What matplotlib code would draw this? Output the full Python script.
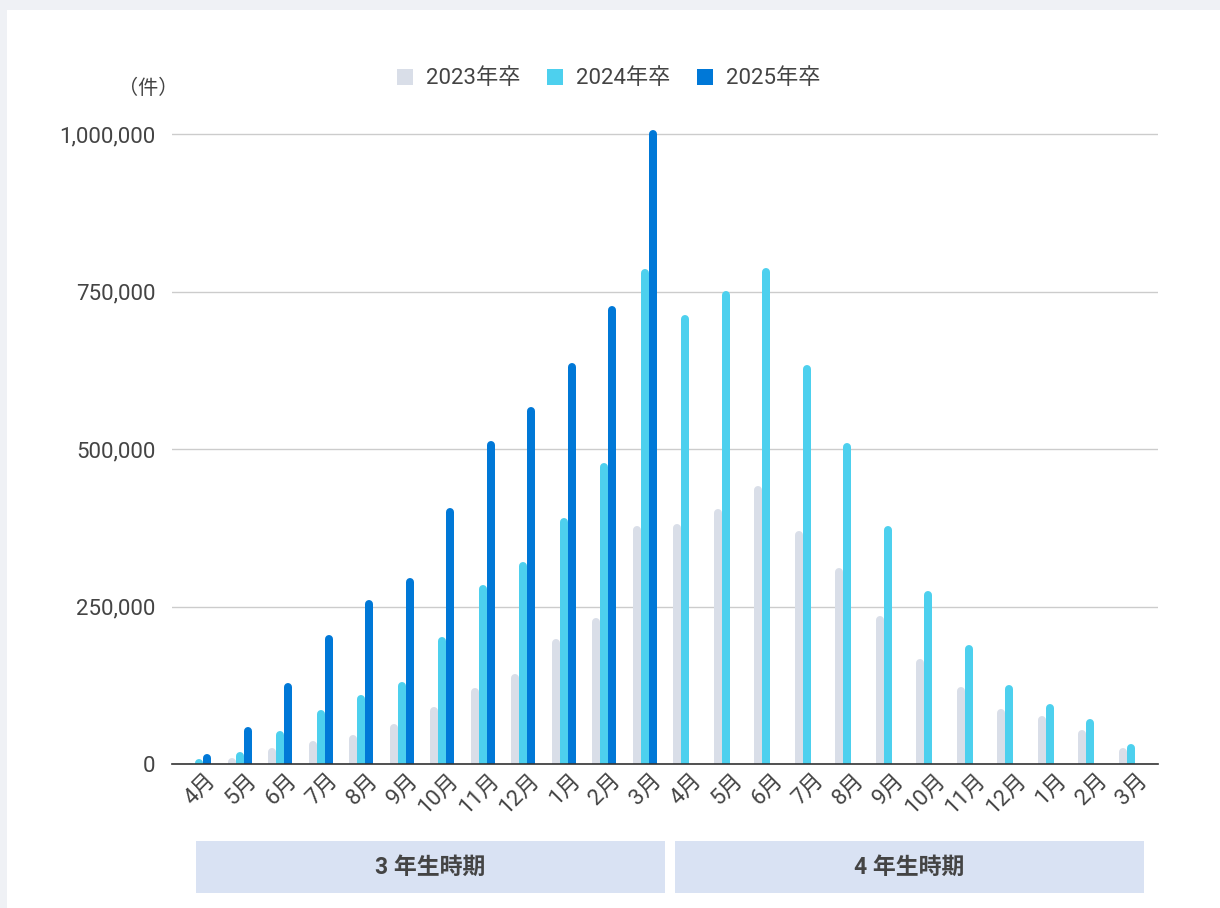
import numpy as np
import matplotlib
matplotlib.use("Agg")
import matplotlib.pyplot as plt
from matplotlib.patches import Patch, Rectangle
from matplotlib.transforms import ScaledTranslation, blended_transform_factory

plt.rcParams['font.family'] = ['Roboto', 'Noto Sans CJK JP', 'DejaVu Sans']

# monthly counts (件), April of 3rd year through March of 4th year
months = ['4月', '5月', '6月', '7月', '8月', '9月', '10月', '11月', '12月', '1月', '2月', '3月',
          '4月', '5月', '6月', '7月', '8月', '9月', '10月', '11月', '12月', '1月', '2月', '3月']
grad_2023 = [2000, 10000, 26000, 37000, 46000, 64000, 91000, 121000, 143000, 199000, 232000, 377000,
             381000, 404000, 442000, 370000, 311000, 235000, 167000, 122000, 87000, 76000, 54000, 25000]
grad_2024 = [7500, 18600, 53000, 85000, 110000, 130000, 202000, 284000, 321000, 390000, 477000, 785000,
             713000, 751000, 787000, 633000, 510000, 377000, 275000, 189000, 126000, 95000, 72000, 31000]
grad_2025 = [16500, 59000, 128000, 205000, 261000, 295000, 407000, 512000, 566000, 636000, 727000, 1006000]
series = [('2023年卒', grad_2023, '#d9dee8'),
          ('2024年卒', grad_2024, '#4dd0ee'),
          ('2025年卒', grad_2025, '#0078d7')]
periods = ['3 年生時期', '4 年生時期']

W, H = 1220, 908
fig = plt.figure(figsize=(W / 100, H / 100), dpi=100)
fig.patch.set_facecolor('#eff1f5')
fig.patches.append(Rectangle((7 / W, 0), 1, 1 - 10 / H, transform=fig.transFigure,
                             facecolor='white', edgecolor='none', zorder=-10))

ymax = 1100000
ax = fig.add_axes([172 / W, 144 / H, 986 / W, 0.63 * 1100 / H])
ax.set_facecolor('none')
ax.set_xlim(-0.67, 23.67)
ax.set_ylim(0, ymax)

# bars as thick lines with round tops
bar_px = 8
radius = (bar_px / 2) / (ax.get_position().height * H) * ymax
lw = bar_px * 72 / 100
for k, (name, vals, color) in enumerate(series):
    x = np.arange(len(vals)) + (k - 1) * 0.2
    tops = np.array(vals) - radius
    ax.vlines(x, -3 * radius, tops, colors=color, linewidth=lw, capstyle='round', zorder=3)

ax.set_yticks([0, 250000, 500000, 750000, 1000000])
ax.set_yticklabels(['0', '250,000', '500,000', '750,000', '1,000,000'])
ax.grid(axis='y', color='#cccccc', linewidth=1)
ax.set_axisbelow(True)
for s in ['top', 'right', 'left']:
    ax.spines[s].set_visible(False)
ax.spines['bottom'].set_color('#333333')
ax.spines['bottom'].set_linewidth(1.2)
ax.spines['bottom'].set_zorder(5)
ax.tick_params(axis='y', length=0, pad=12, labelsize=16, labelcolor='#444444')

ax.set_xticks(np.arange(len(months)))
ax.set_xticklabels(months, rotation=45, ha='right', va='top', rotation_mode='anchor')
ax.tick_params(axis='x', length=0, pad=4, labelsize=16, labelcolor='#444444')
for lab in ax.get_xticklabels():
    lab.set_transform(lab.get_transform() + ScaledTranslation(0.06, 0, fig.dpi_scale_trans))

fig.text(148 / W, 1 - 88 / H, '（件）', ha='center', va='center', fontsize=14.5, color='#444444')

handles = [Patch(facecolor=c, edgecolor='none') for _, _, c in series]
fig.legend(handles, [n for n, _, _ in series], loc='center', ncol=3,
           bbox_to_anchor=(609 / W, 1 - 79 / H), frameon=False, fontsize=16,
           handlelength=0.7, handleheight=0.7, handletextpad=0.6, columnspacing=1.2,
           labelcolor='#444444')

# period boxes under the axis
tr = blended_transform_factory(ax.transData, fig.transFigure)
for (x0, x1), label in zip([(-0.07, 11.5), (11.75, 23.33)], periods):
    ax.add_patch(Rectangle((x0, 1 - 893 / H), x1 - x0, 52 / H, transform=tr,
                           facecolor='#d9e2f3', edgecolor='none', clip_on=False))
    ax.text((x0 + x1) / 2, 1 - 867 / H, label, transform=tr, ha='center', va='center',
            fontsize=16.5, fontweight='bold', color='#444444')

fig.savefig('out.png', dpi=100)
